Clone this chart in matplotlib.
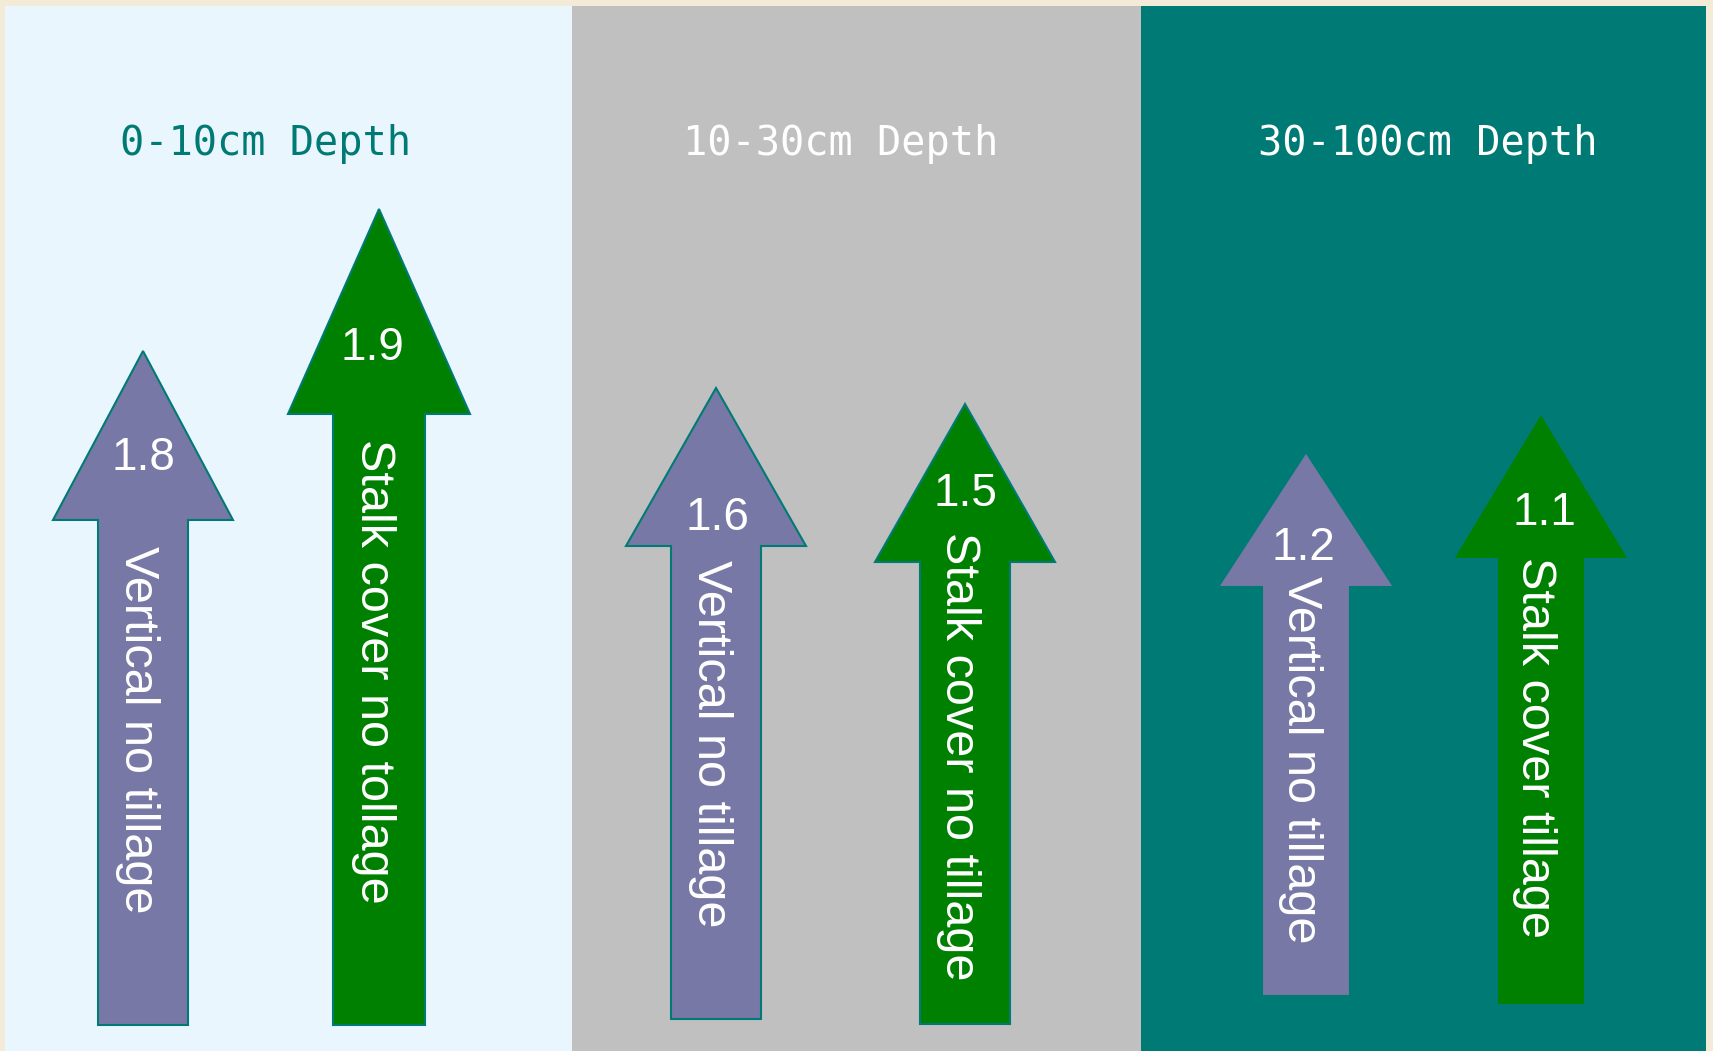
import matplotlib.pyplot as plt
from matplotlib.patches import Rectangle, Polygon

# data
depths = ['0-10cm Depth', '10-30cm Depth', '30-100cm Depth']
treatments = ['Vertical no tillage', 'Stalk cover no tollage',
              'Vertical no tillage', 'Stalk cover no tillage',
              'Vertical no tillage', 'Stalk cover tillage']
values = [1.8, 1.9, 1.6, 1.5, 1.2, 1.1]

# layout (canvas units, y grows downward)
panel_left = [5, 572, 1141]
panel_right = [572, 1141, 1706]
panel_colors = ['#EAF6FE', '#C0C0C0', '#007A74']
title_colors = ['#007A74', 'white', 'white']
title_x = [265, 841, 1428]

arrow_x = [143, 379, 716, 965, 1306, 1541]
arrow_tip = [351, 209, 388, 404, 452, 413]
arrow_neck = [520, 414, 546, 562, 587, 559]
arrow_bottom = [1025, 1025, 1019, 1024, 996, 1005]
head_half = [90, 91, 90, 90, 88, 88]
shaft_half = [45, 46, 45, 45, 44, 44]
arrow_colors = ['#7878A6', '#008000'] * 3
label_x = [143, 372, 717, 965, 1303, 1544]
label_base = [470, 360, 530, 506, 560, 525]
text_start = [546, 439, 560, 532, 576, 557]

fig = plt.figure(figsize=(17.13, 10.51), dpi=100)
fig.patch.set_facecolor('#F3EAD7')
ax = fig.add_axes([0, 0, 1, 1])
ax.set_xlim(0, 1713)
ax.set_ylim(1051, 0)
ax.axis('off')

# background panels
for i in range(3):
    ax.add_patch(Rectangle((panel_left[i], 6), panel_right[i] - panel_left[i], 1051,
                           facecolor=panel_colors[i], edgecolor='none'))
    ax.text(title_x[i], 155, depths[i], color=title_colors[i], fontsize=29,
            family='DejaVu Sans Mono', ha='center', va='baseline')

# arrows
for i in range(len(values)):
    cx = arrow_x[i]
    pts = [(cx, arrow_tip[i]),
           (cx + head_half[i], arrow_neck[i]),
           (cx + shaft_half[i], arrow_neck[i]),
           (cx + shaft_half[i], arrow_bottom[i]),
           (cx - shaft_half[i], arrow_bottom[i]),
           (cx - shaft_half[i], arrow_neck[i]),
           (cx - head_half[i], arrow_neck[i])]
    ax.add_patch(Polygon(pts, closed=True, facecolor=arrow_colors[i],
                         edgecolor='#007A74', linewidth=1.5))
    ax.text(label_x[i], label_base[i], f'{values[i]:.1f}', color='white',
            fontsize=33, family='Liberation Sans', ha='center', va='baseline')
    ax.text(cx - 6, text_start[i], treatments[i], color='white', fontsize=35,
            family='Liberation Sans', rotation=-90, ha='center', va='top')

fig.savefig('out.png', dpi=100, facecolor=fig.get_facecolor())
